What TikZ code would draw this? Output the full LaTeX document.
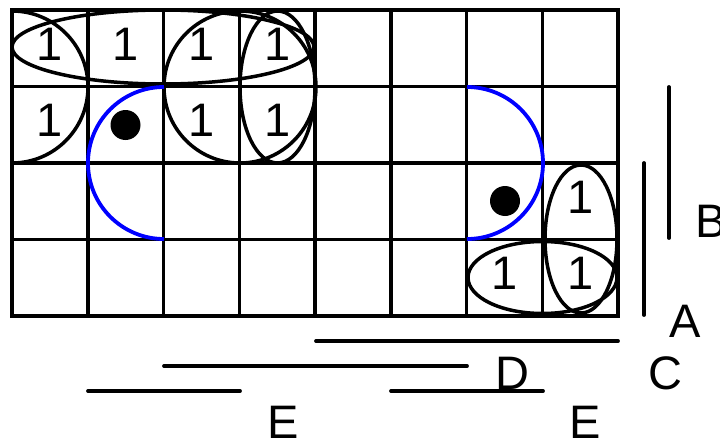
\documentclass[tikz,border=0pt]{standalone}
\usepackage{fontspec}
\setmainfont{Liberation Sans}
\begin{document}
\begin{tikzpicture}[x=1pt, y=-1pt, line width=3.5pt,
    font=\fontsize{47}{50}\selectfont,
    lbl/.style={inner sep=0pt},
    bar/.style={line width=3.8pt, line cap=round},
    wrap/.style={blue, line width=3.8pt}]
  \useasboundingbox (0,0) rectangle (720,444);
  \def\W{75.75}
  \def\H{76.5}
  % grid
  \draw (12,10) rectangle (618,316);
  \foreach \i in {1,...,7} {
    \draw (12+\i*\W,10) -- (12+\i*\W,316);
  }
  \foreach \j in {1,2,3} {
    \draw (12,10+\j*\H) -- (618,10+\j*\H);
  }
  \foreach \c/\r in {0/0,1/0,2/0,3/0,0/1,2/1,3/1,7/2,6/3,7/3} {
    \node[lbl] (one\c\r) at (12+\c*\W+0.5*\W, 6+\r*\H+0.5*\H) {1};
  }
  % groups
  \draw (163,47) ellipse [x radius=151, y radius=37];
  \draw (240,87) circle (76);
  \draw (277.5,87) ellipse [x radius=37.5, y radius=76];
  \draw (12,11) arc[start angle=-90, end angle=90, radius=76];
  \draw (581,239) ellipse [x radius=36, y radius=74];
  \draw (542.5,277.5) ellipse [x radius=74.5, y radius=36];
  \draw[wrap] (164,87) arc[start angle=-90, end angle=-270, radius=76];
  \draw[wrap] (467,87) arc[start angle=-90, end angle=90, radius=76];
  \fill (125.5,125) circle (15);
  \fill (505,201) circle (15);
  % variable bars
  \draw[bar] (669,87) -- (669,238);
  \draw[bar] (644,163) -- (644,315);
  \draw[bar] (316,341) -- (618,341);
  \draw[bar] (164,366) -- (467,366);
  \draw[bar] (88,391) -- (240,391);
  \draw[bar] (391,391) -- (543,391);
  \node[lbl] (varB) at (711,221) {B};
  \node[lbl] (varA) at (685,321) {A};
  \node[lbl] (varC) at (665,373) {C};
  \node[lbl] (varD) at (512,373) {D};
  \node[lbl] (varE1) at (283,422) {E};
  \node[lbl] (varE2) at (585,422) {E};
\end{tikzpicture}
\end{document}
